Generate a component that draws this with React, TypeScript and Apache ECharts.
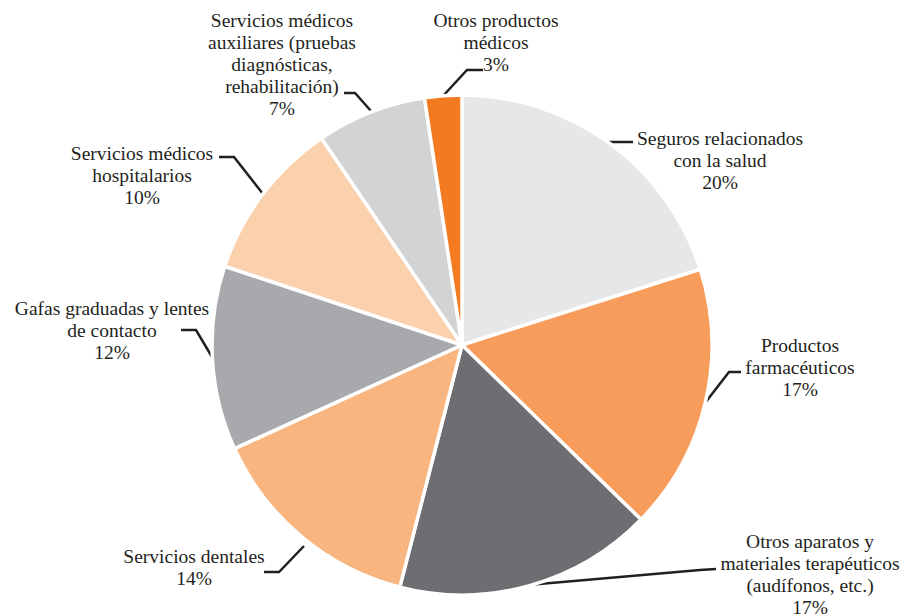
import React, { useEffect, useRef } from "react";
import * as echarts from "echarts";

const categories = [
  "Seguros relacionados\ncon la salud",
  "Productos\nfarmacéuticos",
  "Otros aparatos y\nmateriales terapéuticos\n(audífonos, etc.)",
  "Servicios dentales",
  "Gafas graduadas y lentes\nde contacto",
  "Servicios médicos\nhospitalarios",
  "Servicios médicos\nauxiliares (pruebas\ndiagnósticas,\nrehabilitación)",
  "Otros productos\nmédicos",
];
// slice sizes estimated from the drawn geometry
const sliceValues = [20.1, 17.2, 16.7, 14.2, 11.9, 10.4, 7.1, 2.4];
// percentages as printed on the chart
const printedPercents = [20, 17, 17, 14, 12, 10, 7, 3];
const colors = ["#e6e7e8", "#f79c5a", "#6d6e71", "#f9b57f", "#a7a9ac", "#fbd0ad", "#d1d3d4", "#f37a21"];

// label layout (centre of text block, leader line points)
const labelLayouts = [
  { x: 720, y: 160, line: [[606, 142], [620, 142], [633, 142]] },
  { x: 800, y: 367, line: [[705, 403], [729, 372], [741, 372]] },
  { x: 810, y: 574, line: [[528, 585], [700, 570], [716, 569]] },
  { x: 194, y: 567, line: [[304, 546], [279, 572], [264, 572]] },
  { x: 112, y: 330, line: [[215, 362], [196, 330], [181, 330]] },
  { x: 142, y: 175, line: [[263, 194], [234, 157], [219, 157]] },
  { x: 282, y: 64, line: [[371, 111], [355, 93], [344, 93]] },
  { x: 496, y: 42, line: [[443, 96], [467, 70], [483, 70]] },
];

export default function App() {
  const ref = useRef<HTMLDivElement>(null);
  useEffect(() => {
    if (!ref.current) return;
    const chart = echarts.init(ref.current, null, { renderer: "svg" });
    chart.setOption({
      animation: false,
      backgroundColor: "#ffffff",
      series: [
        {
          type: "pie",
          center: [462, 345],
          radius: 250,
          startAngle: 90,
          clockwise: true,
          data: categories.map((name, i) => ({
            name,
            value: sliceValues[i],
            itemStyle: { color: colors[i] },
          })),
          itemStyle: { borderColor: "#ffffff", borderWidth: 3.5 },
          label: {
            show: true,
            formatter: (p: any) => `${p.name}\n${printedPercents[p.dataIndex]}%`,
            fontFamily: "Liberation Serif",
            fontSize: 19.5,
            lineHeight: 22,
            color: "#231f20",
            align: "center",
            overflow: "none",
          },
          labelLine: {
            show: true,
            lineStyle: { color: "#231f20", width: 2.5 },
          },
          labelLayout: (params: any) => {
            const l = labelLayouts[params.dataIndex];
            return {
              x: l.x,
              y: l.y,
              align: "center",
              verticalAlign: "middle",
              labelLinePoints: l.line,
            };
          },
          emphasis: { disabled: true },
        },
      ],
    });
    return () => chart.dispose();
  }, []);
  return (
    <div
      ref={ref}
      style={{ position: "fixed", left: 0, top: 0, width: 906, height: 616 }}
    />
  );
}
